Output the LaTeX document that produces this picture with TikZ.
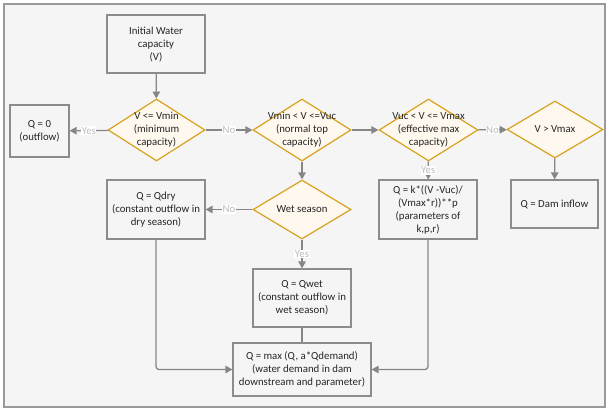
\documentclass[tikz,border=0pt]{standalone}
\usepackage{fontspec}
\setmainfont{Carlito}
\usetikzlibrary{shapes.geometric,arrows.meta}
\definecolor{framegray}{HTML}{9A9A9A}
\definecolor{bg}{HTML}{F5F5F5}
\definecolor{boxline}{HTML}{8C8C8C}
\definecolor{gold}{HTML}{D6A21E}
\definecolor{cream}{HTML}{FFF8EE}
\definecolor{conn}{HTML}{868686}
\definecolor{lbl}{HTML}{BDBDBD}
\definecolor{txt}{HTML}{262626}
\tikzset{
  txtstyle/.style={font=\fontsize{10.8}{13}\selectfont, text=txt, align=center},
  procbox/.style={draw=boxline, fill=bg, line width=1.2pt, inner sep=0pt, txtstyle},
  decbox/.style={shape=diamond, draw=gold, fill=cream, line width=1.2pt, inner sep=0pt},
  conlabel/.style={font=\fontsize{10.8}{12}\selectfont, text=lbl, fill=white, inner sep=0.6pt},
  flow/.style={draw=conn, line width=1.3pt, -{Triangle[length=7pt,width=7.5pt]}},
  plainflow/.style={draw=conn, line width=1.3pt},
}
\begin{document}
\begin{tikzpicture}[x=1pt,y=-1pt]
\useasboundingbox (0,0) rectangle (609,412);
\draw[framegray, fill=bg, line width=1.3pt] (4,4) rectangle (605,407);

% process boxes
\node[procbox, minimum width=98pt, minimum height=58pt] (init) at (156,44) {Initial Water\\capacity\\(V)};
\node[procbox, minimum width=59pt, minimum height=52pt] (q0) at (39.5,131) {Q = 0\\(outflow)};
\node[procbox, minimum width=98pt, minimum height=59pt] (qdry) at (156,209.5) {Q = Qdry\\(constant outflow in\\dry season)};
\node[procbox, minimum width=98pt, minimum height=59pt] (qk) at (428,209.5) {Q = k*((V -Vuc)/\\(Vmax*r))**p\\(parameters of\\k,p,r)};
\node[procbox, minimum width=87pt, minimum height=48pt] (dam) at (554.5,204) {Q = Dam inflow};
\node[procbox, minimum width=98pt, minimum height=58pt] (qwet) at (302,298) {Q = Qwet\\(constant outflow in\\wet season)};
\node[procbox, minimum width=138pt, minimum height=53pt] (final) at (302,369.5) {Q = max (Q, a*Qdemand)\\(water demand in dam\\downstream and parameter)};

% decision diamonds
\node[decbox, minimum width=97pt, minimum height=62pt, label={[txtstyle]center:V <= Vmin\\(minimum\\capacity)}] (d1) at (156.5,130) {};
\node[decbox, minimum width=98pt, minimum height=62pt, label={[txtstyle]center:Vmin < V <=Vuc\\(normal top\\capacity)}] (d2) at (302,130) {};
\node[decbox, minimum width=99pt, minimum height=62pt, label={[txtstyle]center:Vuc < V <= Vmax\\(effective max\\capacity)}] (d3) at (428.5,130) {};
\node[decbox, minimum width=96pt, minimum height=57pt, label={[txtstyle]center:V > Vmax}] (d4) at (555,129.5) {};
\node[decbox, minimum width=98pt, minimum height=59pt, label={[txtstyle]center:Wet season}] (wet) at (302,209.5) {};

% connectors
\draw[flow] (init) -- (d1);
\draw[flow] (d1) -- node[conlabel] {Yes} (q0);
\draw[flow] (d1) -- node[conlabel] {No} (d2);
\draw[flow] (d2) -- (d3);
\draw[flow] (d3) -- node[conlabel] {No} (d4);
\draw[flow] (d2) -- (wet);
\draw[flow] (d4) -- (dam);
\draw[flow] (d3) -- node[conlabel] {Yes} (qk);
\draw[flow] (wet) -- node[conlabel] {No} (qdry);
\draw[flow] (wet) -- node[conlabel] {Yes} (qwet);
\draw[plainflow] (qwet) -- (final);
\draw[flow, rounded corners=3pt] (qdry.south) |- (final.west);
\draw[flow, rounded corners=3pt] (qk.south) |- (final.east);
\end{tikzpicture}
\end{document}
